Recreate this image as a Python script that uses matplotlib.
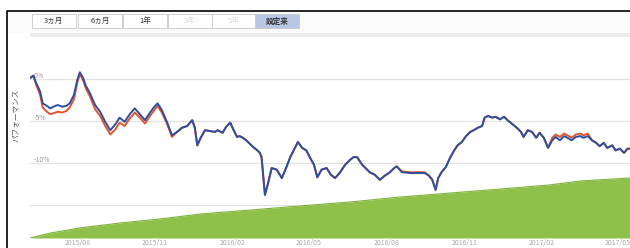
import matplotlib.pyplot as plt
import matplotlib.dates as mdates
from matplotlib.patches import Rectangle
from matplotlib.lines import Line2D
import numpy as np
import pandas as pd

plt.rcParams['font.family'] = ['Noto Sans CJK JP', 'DejaVu Sans']

# data
start_date = '2015-06-06'
days = [0, 4, 7, 12, 15, 20, 24, 30, 33, 38, 43, 47, 52, 56, 59, 63, 66, 71, 77, 83,
        89, 95, 101, 106, 112, 118, 124, 130, 136, 142, 148, 151, 156, 162, 168, 174, 180, 186, 192, 195,
        198, 202, 207, 213, 219, 222, 228, 232, 237, 241, 245, 248, 252, 257, 263, 269, 272, 274, 278, 282,
        286, 292, 298, 303, 308, 312, 317, 322, 327, 331, 336, 340, 345, 351, 356, 361, 367, 373, 379, 383,
        387, 393, 397, 402, 408, 414, 420, 426, 431, 434, 440, 450, 459, 467, 472, 476, 480, 483, 487, 492,
        497, 502, 506, 511, 516, 521, 525, 530, 535, 538, 542, 547, 551, 556, 561, 565, 571, 576, 581, 584,
        589, 594, 599, 603, 608, 613, 618, 622, 627, 632, 636, 641, 646, 651, 655, 660, 665, 670, 674, 679,
        683, 689, 693, 698, 703, 707, 710]

fund_blue = [0.1, 0.4, -0.4, -1.5, -2.9, -3.2, -3.5, -3.2, -3.1, -3.3, -3.2, -2.9, -1.9, -0.1, 0.8, 0.1, -0.8, -1.7, -3.1, -3.9,
             -5.1, -6.1, -5.4, -4.6, -5.1, -4.2, -3.5, -4.2, -4.9, -4.0, -3.2, -2.9, -3.7, -5.1, -6.7, -6.3, -5.8, -5.6, -4.9, -5.8,
             -7.9, -7.0, -6.1, -6.2, -6.3, -6.1, -6.4, -5.7, -5.2, -6.1, -6.9, -6.8, -7.0, -7.4, -8.0, -8.5, -8.8, -9.3, -13.8, -12.3,
             -10.6, -10.8, -11.8, -10.6, -9.3, -8.5, -7.5, -8.2, -8.5, -9.3, -10.2, -11.7, -10.8, -10.6, -11.4, -11.8, -11.1, -10.2, -9.6, -9.3,
             -9.3, -10.2, -10.6, -11.1, -11.4, -12.0, -11.5, -11.1, -10.6, -10.4, -11.1, -11.2, -11.2, -11.2, -11.5, -12.0, -13.2, -11.8, -11.1, -10.5,
             -9.4, -8.5, -7.9, -7.5, -6.8, -6.3, -6.1, -5.8, -5.6, -4.6, -4.4, -4.6, -4.5, -4.8, -4.5, -4.9, -5.4, -5.8, -6.3, -6.9,
             -6.1, -6.3, -7.0, -6.4, -7.0, -8.2, -7.3, -6.9, -7.3, -6.8, -7.0, -7.3, -6.9, -6.8, -7.0, -6.8, -7.3, -7.6, -8.0, -7.6,
             -8.2, -7.9, -8.5, -8.3, -8.8, -8.3, -8.3]

fund_red = [0.1, 0.4, -0.6, -1.9, -3.4, -3.9, -4.2, -4.0, -3.9, -4.0, -3.8, -3.4, -2.4, -0.4, 0.6, -0.2, -1.1, -2.1, -3.6, -4.4,
            -5.6, -6.6, -6.0, -5.2, -5.6, -4.7, -4.0, -4.6, -5.3, -4.4, -3.6, -3.2, -4.0, -5.3, -6.9, -6.3, -5.8, -5.6, -4.9, -5.8,
            -7.9, -7.0, -6.1, -6.2, -6.3, -6.1, -6.4, -5.7, -5.2, -6.1, -6.9, -6.8, -7.0, -7.4, -8.0, -8.5, -8.8, -9.3, -13.8, -12.3,
            -10.6, -10.8, -11.8, -10.6, -9.3, -8.5, -7.5, -8.2, -8.5, -9.3, -10.2, -11.7, -10.8, -10.6, -11.4, -11.8, -11.1, -10.2, -9.6, -9.3,
            -9.3, -10.2, -10.6, -11.1, -11.4, -12.0, -11.5, -11.1, -10.6, -10.4, -11.0, -11.1, -11.1, -11.1, -11.5, -12.0, -13.2, -11.8, -11.1, -10.5,
            -9.4, -8.5, -7.9, -7.5, -6.8, -6.3, -6.1, -5.8, -5.6, -4.6, -4.4, -4.6, -4.5, -4.8, -4.5, -4.9, -5.4, -5.8, -6.3, -6.9,
            -6.1, -6.3, -7.0, -6.4, -7.0, -8.2, -7.0, -6.6, -6.9, -6.5, -6.7, -7.0, -6.6, -6.5, -6.7, -6.5, -7.3, -7.6, -8.0, -7.6,
            -8.2, -7.9, -8.5, -8.3, -8.8, -8.3, -8.3]

green_days = [0, 24, 59, 107, 154, 201, 260, 320, 379, 438, 497, 556, 615, 651, 710]
green_vals = [0, 2.5, 5.1, 7.6, 9.6, 12.1, 14.1, 16.2, 18.2, 20.7, 22.7, 24.7, 26.8, 28.8, 30.3]

tick_dates = ['2015-08-01', '2015-11-01', '2016-02-01', '2016-05-01',
              '2016-08-01', '2016-11-01', '2017-02-01', '2017-05-01']
grid_vals = [0, -5, -10, -15]
grid_labels = ['0%', '-5%', '-10%', '']
buttons = ['3ヵ月', '6ヵ月', '1年', '3年', '5年', '設定来']

W, H = 630, 248
fig = plt.figure(figsize=(W / 100, H / 100), dpi=100)

# outer frame and button bar (behind the axes)
fig.patches.append(Rectangle((7 / W, 1 - 33 / H), 1 - 7 / W, 21 / H, transform=fig.transFigure,
                             facecolor='#fafafa', edgecolor='none', zorder=-2))
fig.patches.append(Rectangle((30 / W, 1 - 37 / H), 1 - 30 / W, 4 / H, transform=fig.transFigure,
                             facecolor='#ececec', edgecolor='none', zorder=-2))
fig.lines.append(Line2D([7 / W, 7 / W, 1], [0, 1 - 11 / H, 1 - 11 / H], transform=fig.transFigure,
                        color='black', lw=1.2, zorder=5))

bx = [32, 78, 123, 168, 212, 255]
bw = 44
for i, lab in enumerate(buttons):
    sel = i == 5
    faded = i in (3, 4)
    fc = '#b9c6e4' if sel else 'white'
    fig.patches.append(Rectangle((bx[i] / W, 1 - 28 / H), bw / W, 14 / H, transform=fig.transFigure,
                                 facecolor=fc, edgecolor='#c8c8c8', lw=0.6, zorder=3))
    fig.text((bx[i] + bw / 2) / W, 1 - 21 / H, lab, ha='center', va='center', fontsize=5.5,
             color='#dddddd' if faded else '#333333', fontweight='bold' if sel else 'normal', zorder=4)

ax = fig.add_axes([30 / W, 10 / H, 1 - 30 / W, 198 / H])
ax.set_facecolor('none')
x0 = pd.Timestamp(start_date)
x1 = x0 + pd.Timedelta(days=710)
x = x0 + pd.to_timedelta(days, unit='D')
gx = x0 + pd.to_timedelta(green_days, unit='D')

ax.set_ylim(-18.93, 4.64)
ax.set_xlim(x0, x1)

ax2 = ax.twinx()
ax2.set_ylim(0, 100)
ax2.patch.set_visible(False)
# grid lines sit under the green area
for v in grid_vals:
    ax2.plot([x0, x1], [v, v], transform=ax.transData, color='#e2e2e2', lw=0.9, zorder=0.5)
ax2.fill_between(gx, 0, green_vals, color='#8fc14a', lw=0, zorder=1)
ax2.plot(gx, green_vals, color='#7fb23a', lw=0.8, zorder=1.1)
ax2.set_yticks([])
ax2.set_zorder(1)
ax.set_zorder(2)

ax.plot(x, fund_red, color='#e0552e', lw=1.4, zorder=3)
ax.plot(x, fund_blue, color='#2f4f9e', lw=1.4, zorder=4)

for v, lab in zip(grid_vals, grid_labels):
    ax.text(x0 + pd.Timedelta(days=4), v + 0.4, lab, fontsize=5, color='#999999', va='center', zorder=2)

ax.set_yticks([])
ax.set_xticks(pd.to_datetime(tick_dates))
ax.xaxis.set_major_formatter(mdates.DateFormatter('%Y/%m'))
ax.tick_params(axis='x', length=0, labelsize=5, labelcolor='#aaaaaa', pad=1)
for a in (ax, ax2):
    for s in a.spines.values():
        s.set_visible(False)

fig.text(17 / W, 1 - 115 / H, 'パフォーマンス', rotation=90, ha='center', va='center',
         fontsize=5.5, color='#555555')

fig.savefig('out.png', dpi=100)
